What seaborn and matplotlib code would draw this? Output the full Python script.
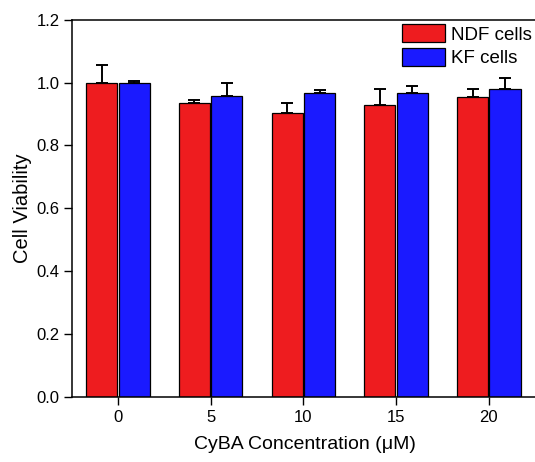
import numpy as np
import pandas as pd
import matplotlib
matplotlib.use("Agg")
import matplotlib.pyplot as plt
import seaborn as sns

concentrations = ["0", "5", "10", "15", "20"]
ndf_values = [1.000, 0.936, 0.902, 0.930, 0.954]
ndf_errors = [0.055, 0.008, 0.033, 0.050, 0.025]
kf_values = [1.000, 0.957, 0.968, 0.967, 0.980]
kf_errors = [0.005, 0.043, 0.008, 0.023, 0.034]
series_names = ["NDF cells", "KF cells"]
colors = ["#EE1C1F", "#1A1AFF"]

sns.set_style("ticks", {"axes.edgecolor": "black", "text.color": "black",
                        "axes.labelcolor": "black", "xtick.color": "black",
                        "ytick.color": "black"})
plt.rcParams["font.family"] = ["Liberation Sans", "DejaVu Sans"]

df = pd.DataFrame({
    "conc": concentrations * 2,
    "value": ndf_values + kf_values,
    "err": ndf_errors + kf_errors,
    "series": [series_names[0]] * 5 + [series_names[1]] * 5,
})

fig = plt.figure(figsize=(5.35, 4.62), dpi=100)
W, H = 535, 462
ax = fig.add_axes([72 / W, (H - 397) / H, (537 - 72) / W, (397 - 19.7) / H])

sns.barplot(data=df, x="conc", y="value", hue="series", order=concentrations,
            hue_order=series_names, palette=colors, width=0.7, gap=0.04,
            errorbar=None, edgecolor="black", linewidth=0.9, saturation=1,
            ax=ax)

# upper-only error bars at bar tops
for container, vals, errs in zip(ax.containers, [ndf_values, kf_values], [ndf_errors, kf_errors]):
    xs = [p.get_x() + p.get_width() / 2 for p in container.patches]
    ax.errorbar(xs, vals, yerr=[np.zeros(len(errs)), errs], fmt="none",
                ecolor="black", elinewidth=1.4, capsize=4.3, capthick=1.4, zorder=3)

ax.set_xlim(-0.495, 4.52)
ax.set_ylim(0, 1.2)
ax.set_yticks(np.arange(0, 1.21, 0.2))
ax.set_yticklabels([f"{v:.1f}" for v in np.arange(0, 1.21, 0.2)])
ax.set_xlabel("CyBA Concentration (\u03bcM)", fontsize=14, labelpad=8, color="black")
ax.set_ylabel("Cell Viability", fontsize=14.5, labelpad=3, color="black")
ax.tick_params(axis="both", labelsize=12, length=5.5, width=1, direction="out",
               colors="black")
for s in ["left", "bottom", "top"]:
    ax.spines[s].set_visible(True)
    ax.spines[s].set_linewidth(1.1)
    ax.spines[s].set_color("black")
ax.spines["right"].set_visible(False)

leg = ax.legend(loc="upper left", bbox_to_anchor=(401.7 / W, 1 - 24.3 / H),
                bbox_transform=fig.transFigure, frameon=False, fontsize=13.5,
                handlelength=2.3, handleheight=1.1, labelspacing=0.22,
                handletextpad=0.35, borderpad=0, borderaxespad=0)
for t in leg.get_texts():
    t.set_color("black")

fig.savefig("out.png", dpi=100)
